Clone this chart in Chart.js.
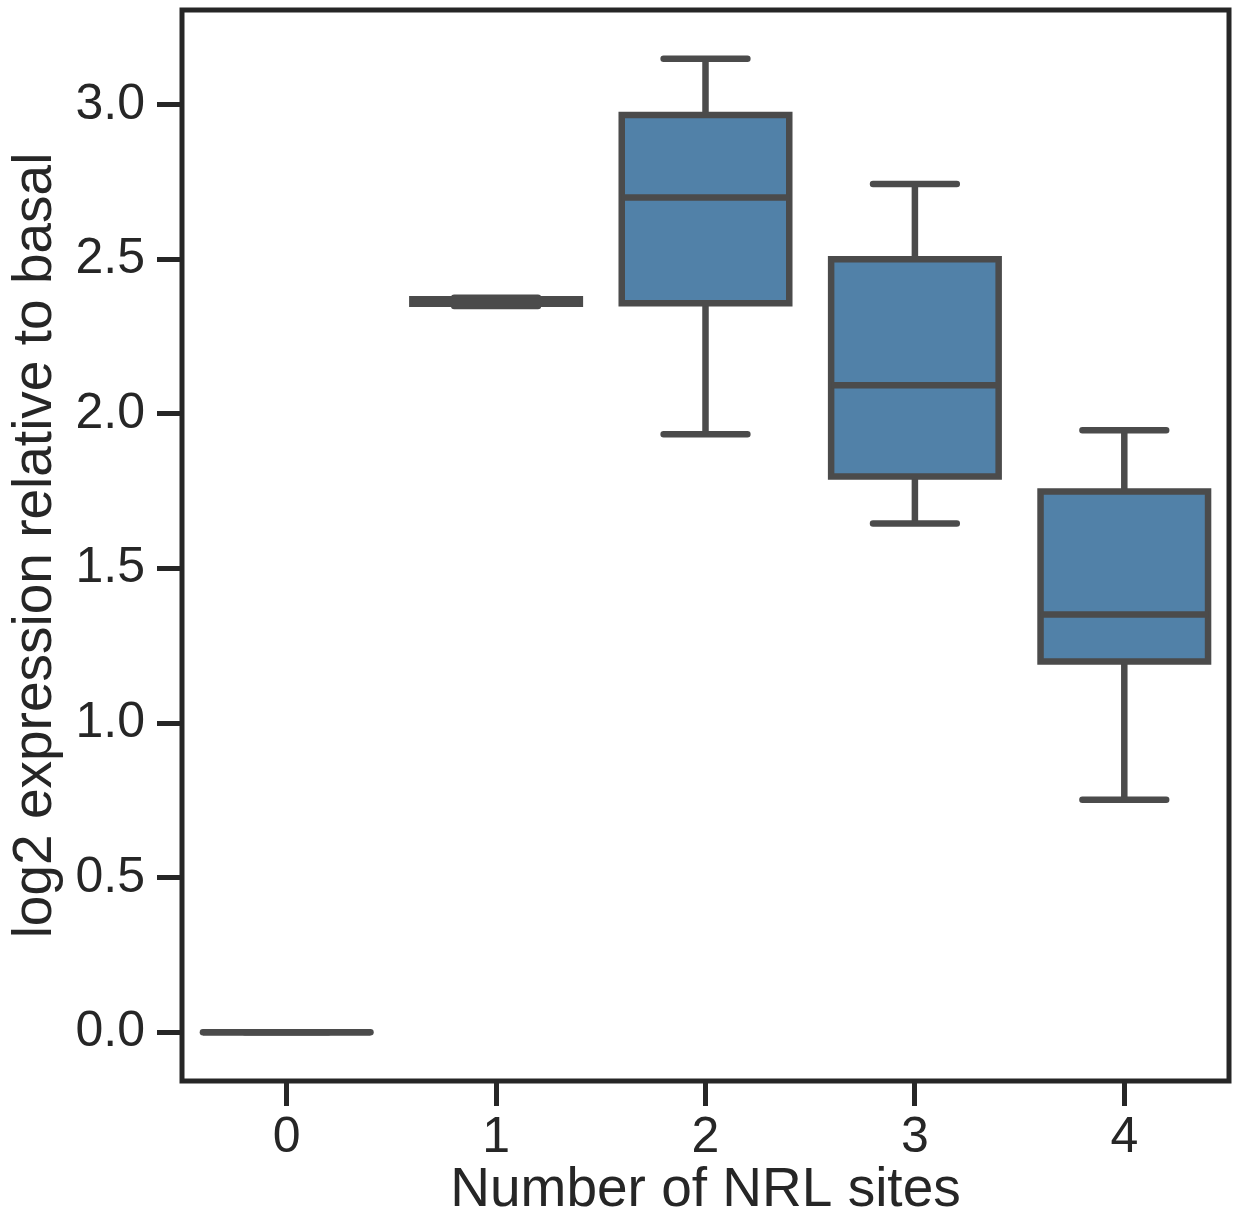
<!DOCTYPE html>
<html>
<head>
<meta charset="utf-8">
<script src="https://cdn.jsdelivr.net/npm/chart.js@4"></script>
<style>
  body { margin: 0; background: #fff; }
  #wrap { width: 1235px; height: 1222px; position: relative; }
</style>
</head>
<body>
<div id="wrap"><canvas id="boxChart"></canvas></div>
<script>
// box plot summary per group
const categories = ['0', '1', '2', '3', '4'];
const whiskerLow = [0, 2.349, 1.934, 1.646, 0.752];
const q1 = [0, 2.356, 2.358, 1.798, 1.199];
const median = [0, 2.363, 2.70, 2.093, 1.351];
const q3 = [0, 2.371, 2.967, 2.50, 1.749];
const whiskerHigh = [0, 2.376, 3.149, 2.744, 1.947];
const yTicks = [0, 0.5, 1.0, 1.5, 2.0, 2.5, 3.0];

const lineGray = '#4b4b4b';
const axisColor = '#262626';
const boxFill = '#5181a8';

// matplotlib-style 5% margin around the data
const lo = Math.min(...whiskerLow), hi = Math.max(...whiskerHigh);
const pad = (hi - lo) * 0.05;

const boxStroke = {
    id: 'boxStroke',
    afterDatasetsDraw(chart) {
        const ctx = chart.ctx;
        const y = chart.scales.y;
        const meta = chart.getDatasetMeta(0);
        ctx.save();
        ctx.strokeStyle = lineGray;
        ctx.lineWidth = 6.5;
        meta.data.forEach((bar, i) => {
            const cx = bar.x;
            const half = bar.width / 2;
            const yq1 = y.getPixelForValue(q1[i]);
            const yq3 = y.getPixelForValue(q3[i]);
            const ylo = y.getPixelForValue(whiskerLow[i]);
            const yhi = y.getPixelForValue(whiskerHigh[i]);
            const ymed = y.getPixelForValue(median[i]);

            // whiskers
            ctx.lineCap = 'butt';
            ctx.beginPath();
            ctx.moveTo(cx, yq3); ctx.lineTo(cx, yhi);
            ctx.moveTo(cx, yq1); ctx.lineTo(cx, ylo);
            ctx.stroke();

            // caps
            ctx.lineCap = 'round';
            ctx.beginPath();
            ctx.moveTo(cx - half / 2, yhi); ctx.lineTo(cx + half / 2, yhi);
            ctx.moveTo(cx - half / 2, ylo); ctx.lineTo(cx + half / 2, ylo);
            ctx.stroke();

            // box outline
            ctx.lineJoin = 'miter';
            ctx.lineCap = q1[i] === q3[i] ? 'round' : 'butt';
            ctx.beginPath();
            if (q1[i] === q3[i]) {
                ctx.moveTo(cx - half, yq1); ctx.lineTo(cx + half, yq1);
            } else {
                ctx.rect(cx - half, yq3, bar.width, yq1 - yq3);
            }
            ctx.stroke();

            // median
            ctx.lineCap = 'butt';
            ctx.beginPath();
            ctx.moveTo(cx - half, ymed); ctx.lineTo(cx + half, ymed);
            ctx.stroke();
        });
        ctx.restore();
    },
    afterDraw(chart) {
        const { ctx, chartArea: a } = chart;
        ctx.save();
        ctx.strokeStyle = axisColor;
        ctx.lineWidth = 5;
        ctx.strokeRect(a.left, a.top, a.right - a.left, a.bottom - a.top);
        ctx.restore();
    }
};

const tickFont = { family: "'Liberation Sans', Arial, sans-serif", size: 50 };
const titleFont = { family: "'Liberation Sans', Arial, sans-serif", size: 55 };

new Chart(document.getElementById('boxChart'), {
    type: 'bar',
    data: {
        labels: categories,
        datasets: [{
            data: categories.map((c, i) => [q1[i], q3[i]]),
            backgroundColor: boxFill,
            borderWidth: 0,
            categoryPercentage: 0.8,
            barPercentage: 1.0
        }]
    },
    options: {
        responsive: true,
        maintainAspectRatio: false,
        animation: false,
        layout: { padding: { left: 0, top: 10, right: 6, bottom: 0 } },
        plugins: { legend: { display: false }, tooltip: { enabled: false } },
        scales: {
            x: {
                type: 'category',
                offset: true,
                grid: {
                    offset: false,
                    drawOnChartArea: false,
                    drawTicks: true,
                    tickLength: 25,
                    tickWidth: 5,
                    tickColor: axisColor,
                    color: axisColor
                },
                border: { display: false },
                ticks: { color: axisColor, font: tickFont, padding: 2, maxRotation: 0 },
                title: {
                    display: true,
                    text: 'Number of NRL sites',
                    color: axisColor,
                    font: titleFont,
                    padding: { top: 0, bottom: -2 }
                },
                afterFit(scale) {
                    scale.height = 141;
                    scale.paddingLeft = 0;
                    scale.paddingRight = 0;
                }
            },
            y: {
                type: 'linear',
                min: lo - pad,
                max: hi + pad,
                afterBuildTicks(scale) { scale.ticks = yTicks.map(v => ({ value: v })); },
                grid: {
                    drawOnChartArea: false,
                    drawTicks: true,
                    tickLength: 25,
                    tickWidth: 5,
                    tickColor: axisColor,
                    color: axisColor
                },
                border: { display: false },
                ticks: {
                    color: axisColor,
                    font: tickFont,
                    padding: 12,
                    callback: v => v.toFixed(1)
                },
                title: {
                    display: true,
                    text: 'log2 expression relative to basal',
                    color: axisColor,
                    font: titleFont,
                    padding: { top: 3, bottom: 0 }
                },
                afterFit(scale) {
                    scale.width = 182;
                    scale.paddingTop = 0;
                    scale.paddingBottom = 0;
                }
            }
        }
    },
    plugins: [boxStroke]
});
</script>
</body>
</html>
